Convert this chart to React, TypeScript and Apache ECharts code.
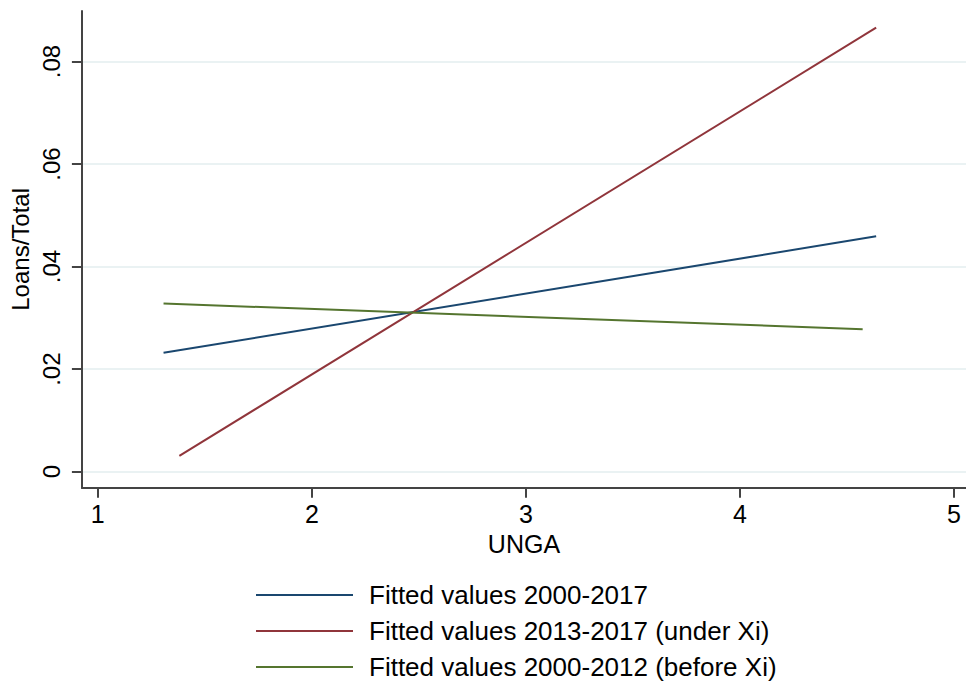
import React, { useEffect, useRef } from "react";
import * as echarts from "echarts";

const seriesNames = [
  "Fitted values 2000-2017",
  "Fitted values 2013-2017 (under Xi)",
  "Fitted values 2000-2012 (before Xi)",
];
const seriesColors = ["#1a476f", "#90353b", "#55752f"];

const xBlue = [1.307, 4.636];
const yBlue = [0.0232, 0.0459];
const xRed = [1.381, 4.636];
const yRed = [0.0031, 0.0866];
const xGreen = [1.307, 4.573];
const yGreen = [0.0328, 0.0278];

const xTicks = [1, 2, 3, 4, 5];
const yTicks = [0, 0.02, 0.04, 0.06, 0.08];

const FONT = '"Liberation Sans", Arial, Helvetica, sans-serif';

function pairs(xs: number[], ys: number[]) {
  return xs.map((x, i) => [x, ys[i]]);
}

export default function App() {
  const ref = useRef<HTMLDivElement>(null);
  useEffect(() => {
    document.body.style.margin = "0";
    const chart = echarts.init(ref.current!, null, { renderer: "svg" });
    const data = [pairs(xBlue, yBlue), pairs(xRed, yRed), pairs(xGreen, yGreen)];
    const axisLine = { show: true, onZero: false, lineStyle: { color: "#444", width: 2 } };
    chart.setOption({
      animation: false,
      backgroundColor: "#ffffff",
      textStyle: { fontFamily: FONT },
      grid: { left: 78, top: 11, right: 0, bottom: 194.3 },
      xAxis: {
        type: "value",
        min: 0.9256,
        max: 5.0558,
        name: "UNGA",
        nameLocation: "middle",
        nameGap: 38,
        nameTextStyle: { fontSize: 25, color: "#000", fontFamily: FONT },
        axisLine,
        axisTick: { show: true, length: 10, lineStyle: { color: "#444", width: 2 }, customValues: xTicks },
        axisLabel: {
          customValues: xTicks,
          fontSize: 25,
          color: "#000",
          margin: 14,
          fontFamily: FONT,
        },
        splitLine: { show: false },
      },
      yAxis: {
        type: "value",
        min: -0.00312,
        max: 0.08985,
        name: "Loans/Total",
        nameLocation: "middle",
        nameGap: 47,
        nameTextStyle: { fontSize: 24, color: "#000", fontFamily: FONT },
        axisLine,
        axisTick: { show: true, length: 10, lineStyle: { color: "#444", width: 2 }, customValues: yTicks },
        axisLabel: {
          customValues: yTicks,
          rotate: 90,
          fontSize: 24,
          color: "#000",
          margin: 18,
          fontFamily: FONT,
          formatter: (v: number) => (v === 0 ? "0" : v.toFixed(2).replace(/^0/, "")),
        },
        splitLine: { show: true, lineStyle: { color: "#EAF2F3", width: 2 } },
      },
      legend: {
        orient: "vertical",
        left: 256,
        top: 582,
        padding: 0,
        icon: "rect",
        itemWidth: 97,
        itemHeight: 2,
        itemGap: 10,
        data: seriesNames,
        textStyle: {
          fontSize: 26,
          lineHeight: 26,
          color: "#000",
          fontFamily: FONT,
          padding: [0, 0, 0, 11],
        },
      },
      series: seriesNames.map((name, i) => ({
        name,
        type: "line",
        data: data[i],
        symbol: "none",
        showSymbol: false,
        color: seriesColors[i],
        lineStyle: { color: seriesColors[i], width: 2 },
      })),
    });
    return () => chart.dispose();
  }, []);
  return <div ref={ref} style={{ width: 966, height: 682 }} />;
}
